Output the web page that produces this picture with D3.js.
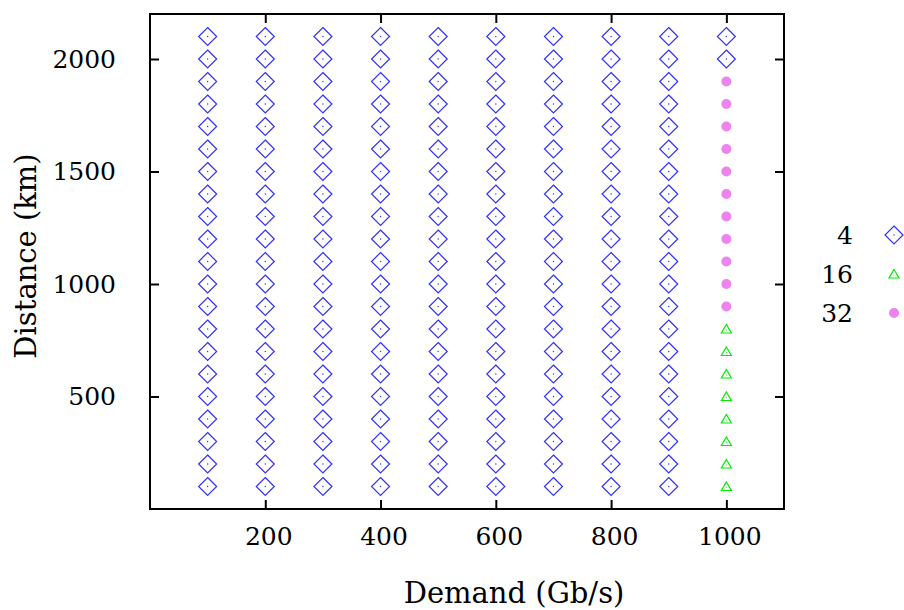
<!DOCTYPE html>
<html><head>
<meta charset="utf-8">
<style>
  body { margin: 0; background: #fff; }
  svg text { font-family: "DejaVu Serif", serif; fill: #000; }
</style>
<script src="https://d3js.org/d3.v7.min.js"></script>
</head>
<body>
<svg id="chart" width="904" height="610"></svg>
<script>
// demand (Gb/s) per column, distance (km) per row
const demand = [100, 200, 300, 400, 500, 600, 700, 800, 900, 1000];
const distance = [100, 200, 300, 400, 500, 600, 700, 800, 900, 1000, 1100,
                  1200, 1300, 1400, 1500, 1600, 1700, 1800, 1900, 2000, 2100];
// format chosen in the 1000 Gb/s column, row by row; every other column uses 4
const formatAt1000 = [16, 16, 16, 16, 16, 16, 16, 16, 32, 32, 32,
                      32, 32, 32, 32, 32, 32, 32, 32, 4, 4];
const defaultFormat = 4;
const legendKeys = [4, 16, 32];
const xTicks = [200, 400, 600, 800, 1000];
const yTicks = [500, 1000, 1500, 2000];

const points = [];
demand.forEach(d => {
  distance.forEach((km, i) => {
    points.push({ demand: d, distance: km, format: d === 1000 ? formatAt1000[i] : defaultFormat });
  });
});

const margin = { left: 150, right: 120, top: 14, bottom: 101 };
const width = 904, height = 610;
const svg = d3.select("#chart");

const x = d3.scaleLinear().domain([0, 1100]).range([margin.left, width - margin.right]);
const y = d3.scaleLinear().domain([0, 2200]).range([height - margin.bottom, margin.top]);

const color = { 4: "#3030ff", 16: "#00ee00", 32: "#ee82ee" };

function drawMarker(sel, f) {
  if (f === 4) {
    sel.append("path").attr("d", "M0,-9L9,0L0,9L-9,0Z")
      .attr("fill", "none").attr("stroke", color[4]).attr("stroke-width", 1.2);
    sel.append("circle").attr("r", 0.7).attr("fill", color[4]);
  } else if (f === 16) {
    sel.append("path").attr("d", "M0,-4.5L5,4L-5,4Z")
      .attr("fill", "none").attr("stroke", color[16]).attr("stroke-width", 1.2);
    sel.append("circle").attr("r", 0.6).attr("cy", 1).attr("fill", color[16]);
  } else {
    sel.append("circle").attr("r", 5).attr("fill", color[32]);
  }
}

// points
const pts = svg.append("g").selectAll("g").data(points).join("g")
  .attr("transform", p => `translate(${x(p.demand)},${y(p.distance)})`);
pts.each(function(p) { drawMarker(d3.select(this), p.format); });

// axes with inward ticks, mirrored
const tickLen = 9;
const fontSize = 25;
const titleSize = 29;
const fmt = d3.format("d");
svg.append("g").attr("transform", `translate(0,${y(0)})`)
  .call(d3.axisBottom(x).tickValues(xTicks).tickFormat(fmt).tickSizeInner(-tickLen).tickSizeOuter(0).tickPadding(tickLen + 9))
  .call(g => g.select(".domain").remove())
  .call(g => g.selectAll(".tick text").attr("dx", 3));
svg.append("g").attr("transform", `translate(0,${y(2200)})`)
  .call(d3.axisTop(x).tickValues(xTicks).tickSizeInner(-tickLen).tickSizeOuter(0).tickFormat(""))
  .call(g => g.select(".domain").remove());
svg.append("g").attr("transform", `translate(${x(0)},0)`)
  .call(d3.axisLeft(y).tickValues(yTicks).tickFormat(fmt).tickSizeInner(-tickLen).tickSizeOuter(0).tickPadding(tickLen + 25))
  .call(g => g.select(".domain").remove());
svg.append("g").attr("transform", `translate(${x(1100)},0)`)
  .call(d3.axisRight(y).tickValues(yTicks).tickSizeInner(-tickLen).tickSizeOuter(0).tickFormat(""))
  .call(g => g.select(".domain").remove());

svg.selectAll(".tick line").attr("stroke", "#000").attr("stroke-width", 2);
svg.selectAll(".tick text").attr("font-family", "DejaVu Serif, serif")
  .attr("font-size", fontSize).attr("fill", "#000");

// frame
svg.append("rect")
  .attr("x", x(0)).attr("y", y(2200))
  .attr("width", x(1100) - x(0)).attr("height", y(0) - y(2200))
  .attr("fill", "none").attr("stroke", "#000").attr("stroke-width", 2);

// axis titles
svg.append("text").attr("x", 514).attr("y", 603)
  .attr("text-anchor", "middle").attr("font-size", titleSize).text("Demand (Gb/s)");
svg.append("text").attr("transform", "translate(36,256) rotate(-90)")
  .attr("text-anchor", "middle").attr("font-size", titleSize).text("Distance (km)");

// legend
const legend = svg.append("g").selectAll("g").data(legendKeys).join("g")
  .attr("transform", (k, i) => `translate(0,${235 + i * 39})`);
legend.append("text").attr("x", 853).attr("y", 9)
  .attr("text-anchor", "end").attr("font-size", fontSize).text(k => k);
legend.append("g").attr("transform", "translate(894,0)")
  .each(function(k) { drawMarker(d3.select(this), k); });
</script>
</body></html>
